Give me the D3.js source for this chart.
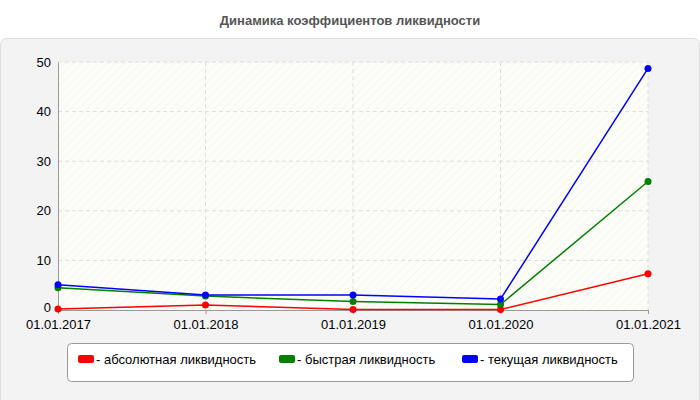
<!DOCTYPE html><html><head><meta charset="utf-8"><script src="https://cdn.jsdelivr.net/npm/d3@7"></script>
<style>body{margin:0;background:#fff}</style></head><body><svg id="c" width="700" height="400"></svg><script>
const categories=["01.01.2017","01.01.2018","01.01.2019","01.01.2020","01.01.2021"];
const absolute=[0.2,1.0,0.1,0.1,7.3];
const quick=[4.5,2.8,1.7,1.1,25.9];
const current=[5.1,3.0,3.0,2.2,48.7];
const yTicks=[0,10,20,30,40,50];
const seriesNames=["- абсолютная ликвидность","- быстрая ликвидность","- текущая ликвидность"];
const colors=["#ff0000","#008000","#0000ff"];
const svg=d3.select("#c"),F="Arial, 'Liberation Sans', sans-serif";
svg.append("text").attr("x",350).attr("y",25).attr("text-anchor","middle").attr("font-family",F).attr("font-size",13).attr("font-weight","bold").attr("fill","#555").text("Динамика коэффициентов ликвидности");
svg.append("rect").attr("x",0.5).attr("y",38.5).attr("width",699).attr("height",370).attr("rx",6).attr("fill","#f3f3f3").attr("stroke","#ddd");
const defs=svg.append("defs");
const p=defs.append("pattern").attr("id","h").attr("width",6).attr("height",6).attr("patternUnits","userSpaceOnUse").attr("patternTransform","rotate(45)");
p.append("rect").attr("width",6).attr("height",6).attr("fill","#fdfdf8");
p.append("line").attr("x1",0).attr("y1",0).attr("x2",0).attr("y2",6).attr("stroke","#eee").attr("stroke-width",1);
const x=d3.scalePoint().domain(categories).range([58,648]);
const y=d3.scaleLinear().domain([0,50]).range([310,62]);
svg.append("rect").attr("x",58).attr("y",62).attr("width",590).attr("height",248).attr("fill","url(#h)");
const g=svg.append("g");
yTicks.slice(1).forEach(t=>g.append("line").attr("x1",58).attr("x2",648).attr("y1",y(t)).attr("y2",y(t)).attr("stroke","#ddd").attr("stroke-dasharray","4,3"));
categories.slice(1).forEach(c=>g.append("line").attr("x1",x(c)).attr("x2",x(c)).attr("y1",62).attr("y2",310).attr("stroke","#ddd").attr("stroke-dasharray","4,3"));
const ya=svg.append("g").attr("transform","translate(58,0)").call(d3.axisLeft(y).tickValues(yTicks).tickSize(0).tickPadding(7));
const xa=svg.append("g").attr("transform","translate(0,310)").call(d3.axisBottom(x).tickSize(4).tickPadding(6));
[ya,xa].forEach(a=>{a.selectAll("text").attr("font-family",F).attr("font-size",13).attr("fill","#000");a.selectAll("path,line").attr("stroke","#999");});
ya.selectAll(".tick").filter(d=>d===0).select("text").attr("dy","0.1em");
const line=d3.line().x((d,i)=>x(categories[i])).y(d=>y(d));
[absolute,quick,current].forEach((s,k)=>{
svg.append("path").datum(s).attr("d",line).attr("fill","none").attr("stroke",colors[k]).attr("stroke-width",1.5);
svg.selectAll(null).data(s).enter().append("circle").attr("cx",(d,i)=>x(categories[i])).attr("cy",d=>y(d)).attr("r",3.5).attr("fill",colors[k]);});
svg.append("rect").attr("x",67.5).attr("y",343.5).attr("width",566).attr("height",38).attr("rx",4).attr("fill","#fff").attr("stroke","#999");
const lx=[78,279,462];
seriesNames.forEach((n,k)=>{
svg.append("rect").attr("x",lx[k]).attr("y",355).attr("width",16).attr("height",8).attr("rx",2).attr("fill",colors[k]);
svg.append("text").attr("x",lx[k]+18).attr("y",364).attr("font-family",F).attr("font-size",13).attr("fill","#000").text(n);});
</script></body></html>
